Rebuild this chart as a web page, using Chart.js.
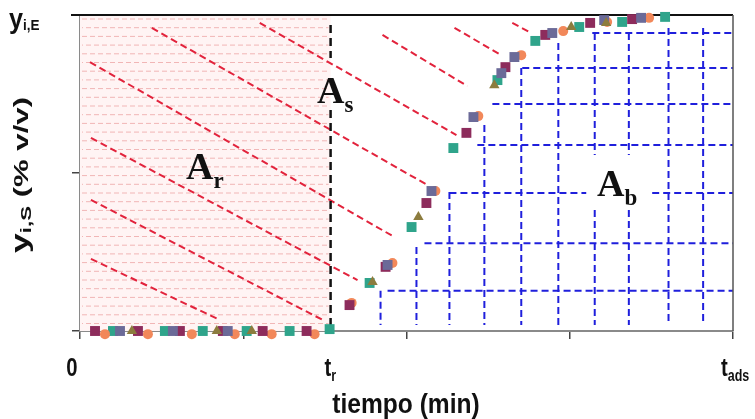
<!DOCTYPE html>
<html>
<head>
<meta charset="utf-8">
<script src="https://cdn.jsdelivr.net/npm/chart.js@4.4.1/dist/chart.umd.min.js"></script>
<style>
  html, body { margin: 0; padding: 0; background: #fff; }
</style>
</head>
<body>
<canvas id="chart" width="755" height="419"></canvas>
<script>
// breakthrough curve, x in time-axis units (0..4), y as fraction of inlet value
const plumPts = [[0.092,0],[0.355,0],[0.612,0],[0.875,0],[1.119,0],[1.388,0],
  [1.651,0.082],[1.872,0.203],[2.122,0.405],[2.367,0.627],[2.606,0.835],[2.850,0.937],[3.125,0.975],[3.382,0.987]];
const orangePts = [[0.153,-0.01],[0.416,-0.01],[0.685,-0.01],[0.948,-0.01],[1.174,-0.01],[1.437,-0.01],
  [1.664,0.089],[1.914,0.215],[2.177,0.443],[2.440,0.680],[2.703,0.873],[2.960,0.949],[3.229,0.978],[3.486,0.991]];
const tealPts = [[0.202,0],[0.520,0],[0.752,0],[1.021,0],[1.284,0],[1.529,0.006],
  [1.774,0.152],[2.031,0.329],[2.287,0.579],[2.557,0.794],[2.789,0.918],[3.058,0.962],[3.321,0.978],[3.584,0.994]];
const slatePts = [[0.245,0],[0.569,0],[0.905,0],
  [1.884,0.209],[2.153,0.443],[2.410,0.677],[2.581,0.816],[2.661,0.867],[2.893,0.943],[3.211,0.984],[3.437,0.991]];
const olivePts = [[0.318,0],[0.838,0],[1.052,0],
  [1.792,0.155],[2.073,0.361],[2.538,0.778],[3.009,0.962],[3.223,0.975]];

// key times on the x axis
const tR = 1.535;
const tAds = 4;

// red dashed strokes over the area above the curve: [x0, y0, x1, y1]
const redStrokes = [
  [0.067,0.228,0.844,0.038],
  [0.067,0.415,1.498,0.032],
  [0.067,0.611,1.700,0.161],
  [0.061,0.851,1.927,0.297],
  [0.440,0.959,2.128,0.462],
  [1.101,0.975,2.306,0.620],
  [1.853,0.937,2.373,0.775],
  [2.294,0.959,2.581,0.873],
  [2.648,0.975,2.765,0.943]
];
// blue grid under the curve: rows [y, xStart], columns [x, yTop]
const blueRows = [[0.127,1.884],[0.278,2.110],[0.437,2.263],[0.589,2.434],[0.718,2.526],[0.832,2.709],[0.943,3.138]];
const blueCols = [[1.841,0.127],[2.061,0.266],[2.263,0.440],[2.477,0.652],[2.703,0.832],[2.930,0.911],[3.153,0.943],[3.362,0.943],[3.605,0.959],[3.817,0.959]];
const blueBottom = 0.019;
// gap left around the A_b label
const labelGapX = [3.101, 3.505];
const labelGapY = [0.383, 0.557];
// gap in the t_r marker line around the A_s label
const trGap = [0.699, 0.864];

const sans = '"Liberation Sans", Arial, sans-serif';
const serif = '"Liberation Serif", "DejaVu Serif", serif';

function textSub(ctx, main, sub, x, y, mainFont, subFont, drop) {
  ctx.font = mainFont;
  ctx.fillText(main, x, y);
  const w = ctx.measureText(main).width;
  ctx.font = subFont;
  ctx.fillText(sub, x + w, y + drop);
  return w + ctx.measureText(sub).width;
}

// condensed look: squeeze horizontally around the anchor point
function squeezed(ctx, x, y, sx, draw) {
  ctx.save();
  ctx.translate(x, y);
  ctx.scale(sx, 1);
  draw();
  ctx.restore();
}

const areasPlugin = {
  id: 'areas',
  beforeDatasetsDraw(chart) {
    const { ctx, scales: { x, y } } = chart;
    const px = v => x.getPixelForValue(v);
    const py = v => y.getPixelForValue(v);
    ctx.save();

    // A_r region: pale pink with dashed hatching
    const x0 = px(0), x1 = px(tR);
    ctx.fillStyle = '#fff4f4';
    ctx.fillRect(x0, py(1), x1 - x0, py(0) - py(1));
    ctx.strokeStyle = '#f1b6b6';
    ctx.lineWidth = 1;
    let row = 0;
    for (let yy = py(1) + 4; yy < py(0) - 2; yy += 8.7, row++) {
      ctx.setLineDash([5, 3]);
      ctx.lineDashOffset = row % 2 ? 4 : 0;
      ctx.beginPath();
      ctx.moveTo(x0 + 2, yy);
      ctx.lineTo(x1 - 2, yy);
      ctx.stroke();
    }
    ctx.lineDashOffset = 0;

    // blue grid
    ctx.strokeStyle = '#1f1fdc';
    ctx.lineWidth = 2;
    ctx.setLineDash([7, 4]);
    blueRows.forEach(([yv, xs]) => {
      ctx.beginPath();
      if (yv > labelGapY[0] && yv < labelGapY[1]) {
        ctx.moveTo(px(xs), py(yv)); ctx.lineTo(px(labelGapX[0]), py(yv));
        ctx.moveTo(px(labelGapX[1]), py(yv)); ctx.lineTo(px(tAds), py(yv));
      } else {
        ctx.moveTo(px(xs), py(yv)); ctx.lineTo(px(tAds), py(yv));
      }
      ctx.stroke();
    });
    blueCols.forEach(([xv, yt]) => {
      ctx.beginPath();
      if (xv > labelGapX[0] && xv < labelGapX[1]) {
        ctx.moveTo(px(xv), py(yt)); ctx.lineTo(px(xv), py(labelGapY[1]));
        ctx.moveTo(px(xv), py(labelGapY[0])); ctx.lineTo(px(xv), py(blueBottom));
      } else {
        ctx.moveTo(px(xv), py(yt)); ctx.lineTo(px(xv), py(blueBottom));
      }
      ctx.stroke();
    });

    // red dashed strokes
    ctx.strokeStyle = '#e2233c';
    ctx.lineWidth = 2;
    ctx.setLineDash([7, 4]);
    redStrokes.forEach(([ax, ay, bx, by]) => {
      ctx.beginPath();
      ctx.moveTo(px(ax), py(ay));
      ctx.lineTo(px(bx), py(by));
      ctx.stroke();
    });

    // t_r marker
    ctx.strokeStyle = '#111';
    ctx.lineWidth = 2.5;
    ctx.setLineDash([8, 5]);
    ctx.beginPath();
    ctx.moveTo(px(tR), py(0.968)); ctx.lineTo(px(tR), py(trGap[1]));
    ctx.moveTo(px(tR), py(trGap[0])); ctx.lineTo(px(tR), py(0.019));
    ctx.stroke();
    ctx.setLineDash([]);

    // frame: black top edge, thin right edge
    ctx.strokeStyle = '#111';
    ctx.lineWidth = 2;
    ctx.beginPath();
    ctx.moveTo(px(0) - 9, py(1)); ctx.lineTo(px(tAds), py(1));
    ctx.stroke();
    ctx.strokeStyle = '#555';
    ctx.lineWidth = 1.5;
    ctx.beginPath();
    ctx.moveTo(px(tAds), py(1)); ctx.lineTo(px(tAds), py(0));
    ctx.stroke();
    ctx.restore();
  },
  afterDatasetsDraw(chart) {
    const { ctx, scales: { x } } = chart;
    ctx.save();
    ctx.fillStyle = '#111';
    ctx.textBaseline = 'alphabetic';
    const big = 'bold 38px ' + serif, small = 'bold 23px ' + serif;
    textSub(ctx, 'A', 'r', 186, 179, big, small, 9);
    textSub(ctx, 'A', 's', 317, 103, big, small, 9);
    textSub(ctx, 'A', 'b', 597, 196, big, small, 9);

    // axis texts
    const tick = 'bold 26px ' + sans, tickSub = 'bold 16px ' + sans;
    squeezed(ctx, x.getPixelForValue(0) - 8, 376, 0.78, () => {
      ctx.font = tick;
      ctx.textAlign = 'center';
      ctx.fillText('0', 0, 0);
      ctx.textAlign = 'left';
    });
    squeezed(ctx, x.getPixelForValue(tR) - 6, 376, 0.78, () => {
      textSub(ctx, 't', 'r', 0, 0, tick, tickSub, 5);
    });
    squeezed(ctx, x.getPixelForValue(tAds) - 12, 376, 0.78, () => {
      textSub(ctx, 't', 'ads', 0, 0, tick, tickSub, 5);
    });
    squeezed(ctx, 406, 413, 0.91, () => {
      ctx.font = 'bold 27px ' + sans;
      ctx.textAlign = 'center';
      ctx.fillText('tiempo (min)', 0, 0);
      ctx.textAlign = 'left';
    });

    // top-left y label
    squeezed(ctx, 9, 28, 0.9, () => {
      textSub(ctx, 'y', 'i,E', 0, 0, 'bold 28px ' + sans, 'bold 15px ' + sans, 2);
    });

    // rotated y axis title, stretched along its run
    ctx.translate(28, 253);
    ctx.rotate(-Math.PI / 2);
    ctx.font = 'bold 24px ' + sans;
    const wy = ctx.measureText('y').width;
    ctx.font = 'bold 15px ' + sans;
    const ws = ctx.measureText('i,S').width;
    ctx.font = 'bold 21px ' + sans;
    const wp = ctx.measureText(' (% v/v)').width;
    ctx.scale(156 / (wy + ws + wp), 1);
    const w = textSub(ctx, 'y', 'i,S', 0, 0, 'bold 24px ' + sans, 'bold 15px ' + sans, 3);
    ctx.font = 'bold 21px ' + sans;
    ctx.fillText(' (% v/v)', w, 0);
    ctx.restore();
  }
};

const markerSet = (data, color, style, r) => ({
  data, pointStyle: style, pointRadius: r,
  backgroundColor: color, borderColor: color, borderWidth: 0,
  showLine: false, clip: false
});

new Chart(document.getElementById('chart'), {
  type: 'scatter',
  data: {
    datasets: [
      markerSet(olivePts, '#8c7c3e', 'triangle', 6),
      markerSet(slatePts, '#6b6a98', 'rect', 7),
      markerSet(plumPts, '#8d2c5c', 'rect', 7),
      markerSet(orangePts, '#f2885a', 'circle', 5),
      markerSet(tealPts, '#2fa48b', 'rect', 7)
    ]
  },
  options: {
    responsive: false,
    animation: false,
    devicePixelRatio: 1,
    layout: { padding: { top: 15, right: 22, left: 0, bottom: 0 } },
    plugins: { legend: { display: false }, tooltip: { enabled: false } },
    scales: {
      x: {
        type: 'linear', min: 0, max: tAds,
        afterFit: s => { s.height = 88; },
        ticks: { stepSize: 1, display: false },
        grid: { drawOnChartArea: false, tickLength: 8, color: '#444', lineWidth: 1.5 },
        border: { color: '#8a8a8a', width: 2 }
      },
      y: {
        type: 'linear', min: 0, max: 1,
        afterFit: s => { s.width = 80; },
        ticks: { stepSize: 0.5, display: false },
        grid: { drawOnChartArea: false, tickLength: 8, color: '#444', lineWidth: 1.5 },
        border: { color: '#8a8a8a', width: 2 }
      }
    }
  },
  plugins: [areasPlugin]
});
</script>
</body>
</html>
